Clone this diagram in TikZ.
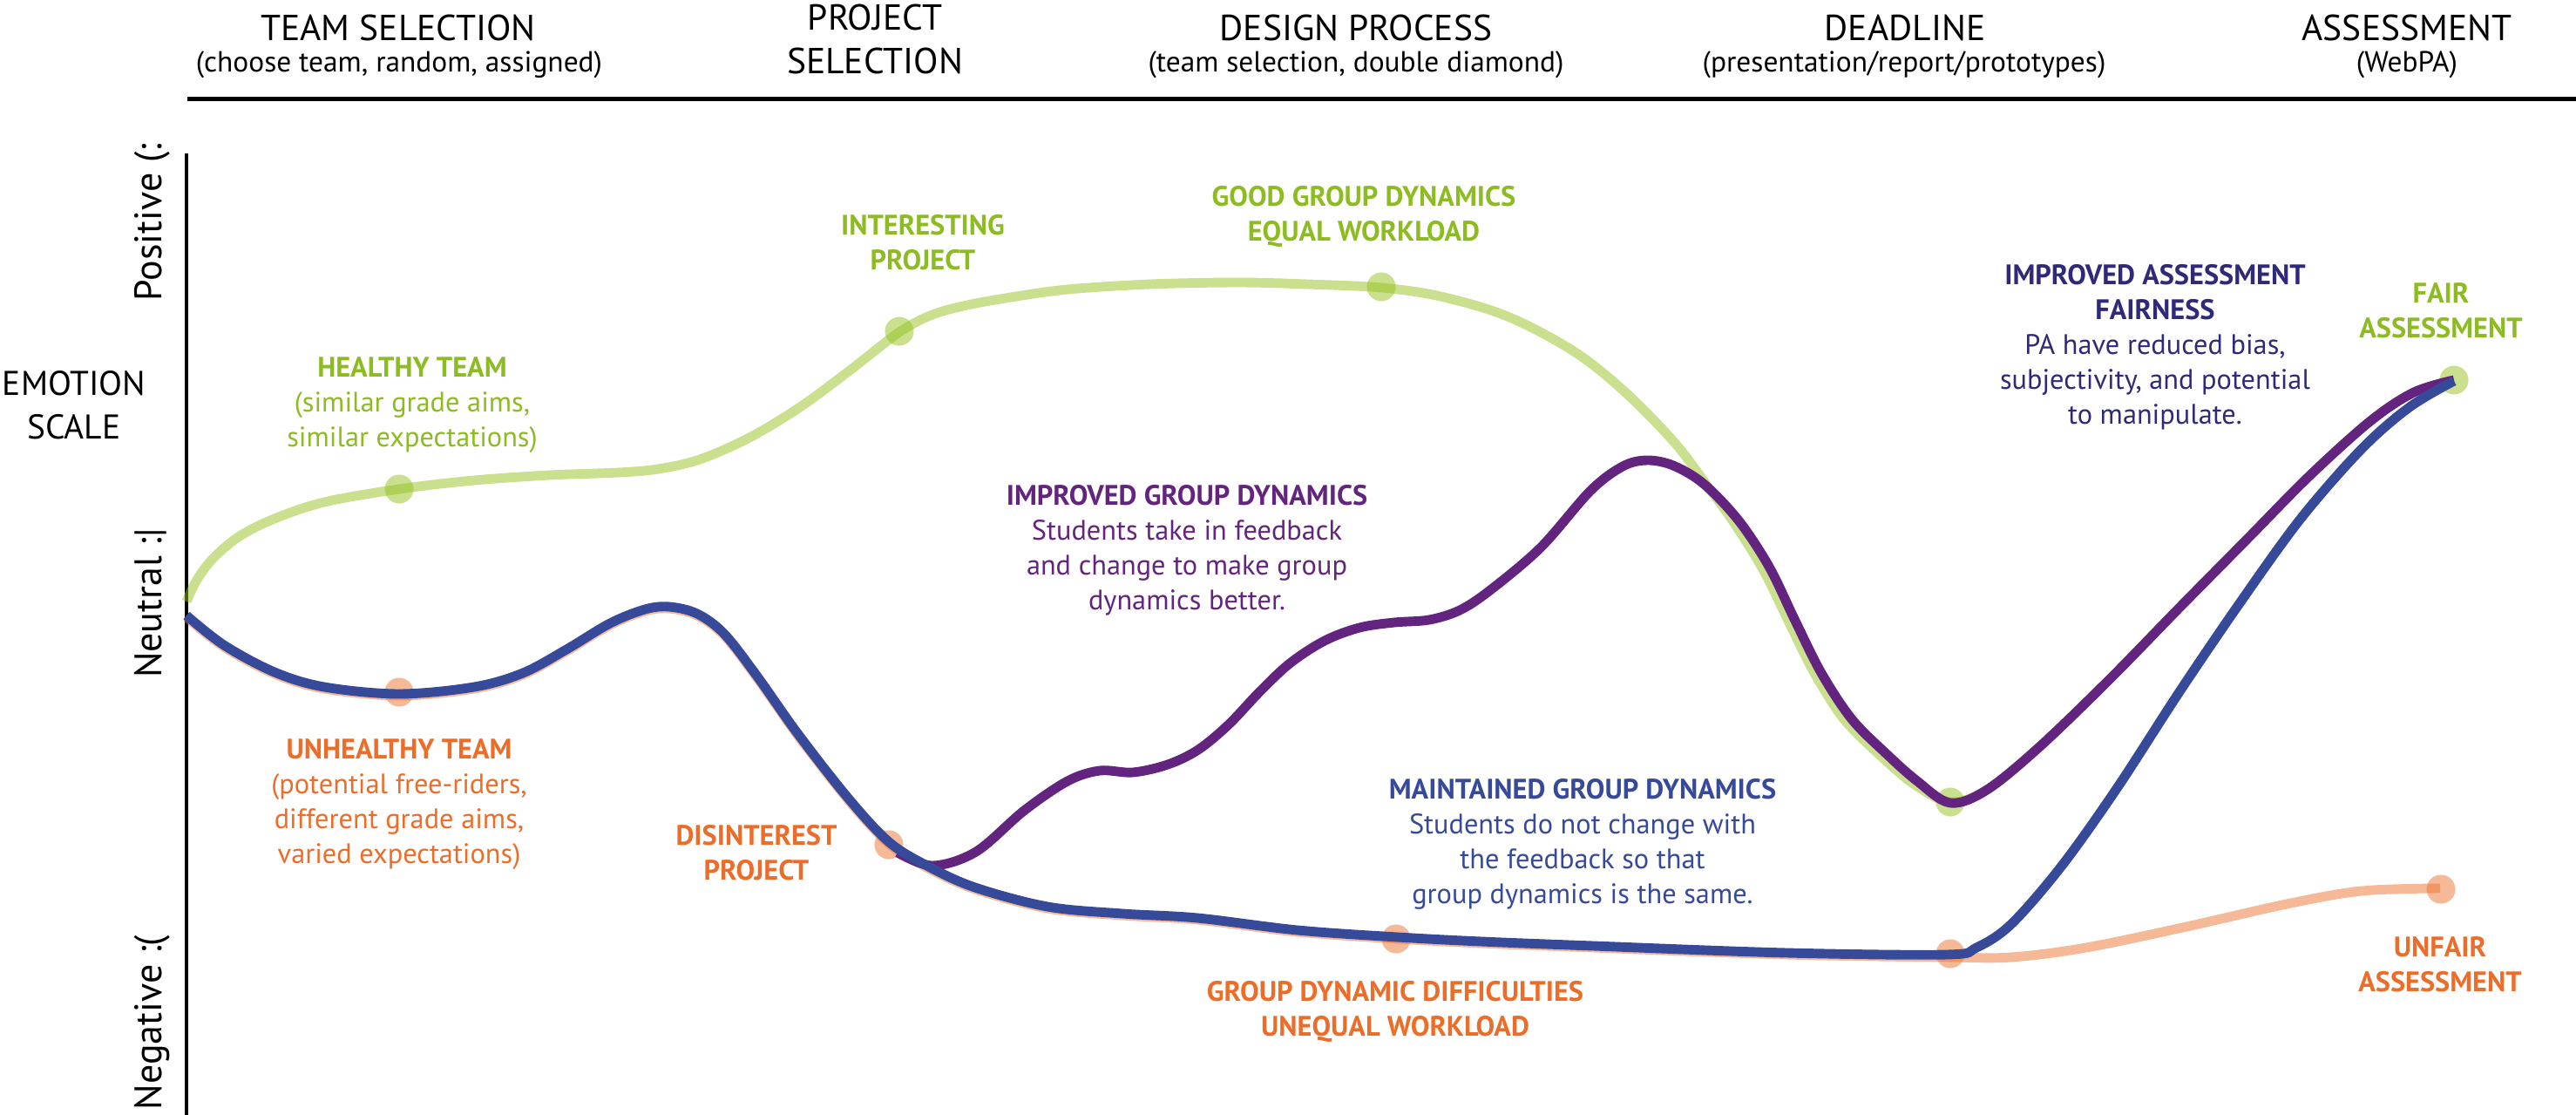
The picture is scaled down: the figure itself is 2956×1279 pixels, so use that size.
\documentclass[tikz,border=0pt]{standalone}
\usepackage{fontspec}
\setmainfont{PT Sans}
\definecolor{leafgreen}{HTML}{95C11F}
\definecolor{leaftext}{HTML}{8DBB22}
\definecolor{ember}{HTML}{EE7330}
\definecolor{embertext}{HTML}{EC6D2A}
\definecolor{plum}{HTML}{63247F}
\definecolor{navy}{HTML}{374A9A}
\definecolor{indigo}{HTML}{2E2A77}
\begin{document}
\begin{tikzpicture}[x=0.01cm, y=-0.01cm,
  stage/.style={font=\fontsize{11.8}{14.2}\selectfont, align=center, inner sep=0pt},
  stagesub/.style={font=\fontsize{9.5}{11.4}\selectfont, inner sep=0pt},
  scalelabel/.style={font=\fontsize{12.5}{15}\selectfont, rotate=90, anchor=base, inner sep=0pt},
  note/.style={font=\fontsize{9.2}{11.4}\selectfont, align=center, inner sep=0pt},
  notehead/.style={note, font=\bfseries\fontsize{9.2}{11.4}\selectfont},
  trend/.style={line width=3.1pt, line join=round},
  milestone/.style={circle, inner sep=0pt, minimum size=9.4pt, fill opacity=0.5},
]
\useasboundingbox (0,0) rectangle (2956,1279);

% ---- stage headings and timeline rule ----
\node[stage] (s1) at (457,31.5) {TEAM SELECTION};
\node[stagesub] (s1b) at (458,74.5) {(choose team, random, assigned)};
\node[stage] (s2) at (1004,45) {PROJECT\\SELECTION};
\node[stage] (s3) at (1556,31.5) {DESIGN PROCESS};
\node[stagesub] (s3b) at (1556,74.5) {(team selection, double diamond)};
\node[stage] (s4) at (2186,31.5) {DEADLINE};
\node[stagesub] (s4b) at (2185,74.5) {(presentation/report/prototypes)};
\node[stage] (s5) at (2762,31.5) {ASSESSMENT};
\node[stagesub] (s5b) at (2762,74.5) {(WebPA)};
\coordinate (ruleL) at (215,113.5);
\coordinate (ruleR) at (2956,113.5);
\draw[line width=1.5pt] (ruleL) -- (ruleR);

% ---- emotion axis ----
\coordinate (axisT) at (214,176);
\coordinate (axisB) at (214,1279);
\draw[line width=1.2pt] (axisT) -- (axisB);
\node[scalelabel] (pos) at (185,255) {Positive (:};
\node[scalelabel] (neu) at (185,692) {Neutral :|};
\node[scalelabel] (neg) at (185,1173) {Negative :(};
\node[font=\fontsize{11.2}{14.2}\selectfont, align=center, inner sep=0pt] (emo) at (85,464.5) {EMOTION\\SCALE};

% ---- positive path ----
\draw[trend, leafgreen, draw opacity=0.5] plot[smooth, tension=0.55] coordinates {
  (214,690) (226,665) (245,640) (275,615) (315,595) (372,576) (458,561)
  (544,551) (631,545) (710,542) (755,538) (803,527) (860,502) (918,467)
  (975,425) (1032,381) (1070,361) (1110,350) (1160,341) (1225,332)
  (1320,326) (1420,324) (1500,326) (1585,330) (1653,340) (1730,363)
  (1806,403) (1864,449) (1921,507) (1959,557) (1992,603) (2024,655)
  (2052,712) (2082,772) (2116,825) (2157,866) (2197,900) (2238,920)
  (2280,906) (2340,857) (2420,780) (2500,698) (2580,617) (2650,546)
  (2720,483) (2770,450) (2816,436)};

% ---- negative path ----
\draw[trend, ember, draw opacity=0.5] plot[smooth, tension=0.55] coordinates {
  (214,708) (257,742) (315,773) (372,790) (458,798) (544,790) (600,774)
  (650,747) (700,717) (740,701) (768,698) (800,706) (831,729) (869,778)
  (915,843) (972,916) (1018,966) (1058,992) (1116,1019) (1202,1042)
  (1288,1050) (1374,1055) (1489,1069) (1604,1077) (1700,1082) (1828,1087)
  (2050,1095) (2234,1098) (2308,1098) (2394,1087) (2509,1063) (2624,1037)
  (2710,1022) (2800,1019)};

% ---- milestones ----
\node[milestone, fill=leafgreen] (g1) at (458,561) {};
\node[milestone, fill=leafgreen] (g2) at (1032,380) {};
\node[milestone, fill=leafgreen] (g3) at (1585,329) {};
\node[milestone, fill=leafgreen] (g4) at (2238,920) {};
\node[milestone, fill=leafgreen] (g5) at (2816,436) {};
\node[milestone, fill=ember] (o1) at (458,794) {};
\node[milestone, fill=ember] (o2) at (1020,969) {};
\node[milestone, fill=ember] (o3) at (1602,1077) {};
\node[milestone, fill=ember] (o4) at (2238,1094) {};
\node[milestone, fill=ember] (o5) at (2801,1020) {};

% ---- improved dynamics path ----
\draw[trend, plum] plot[smooth, tension=0.55] coordinates {
  (1030,978) (1070,993) (1120,977) (1175,930) (1225,896) (1262,884)
  (1300,886) (1340,877) (1375,860) (1410,831) (1445,794) (1480,761)
  (1520,735) (1560,720) (1600,714) (1640,711) (1675,700) (1710,677)
  (1768,628) (1825,563) (1862,535) (1890,528) (1920,534) (1955,555)
  (1995,597) (2030,650) (2060,712) (2090,772) (2125,825) (2165,865)
  (2200,896) (2238,921) (2280,906) (2340,857) (2420,780) (2500,698)
  (2580,617) (2650,546) (2720,483) (2770,450) (2816,436)};

% ---- maintained dynamics path ----
\draw[trend, navy] plot[smooth, tension=0.55] coordinates {
  (214,706) (257,740) (315,771) (372,788) (458,796) (544,788) (600,772)
  (650,745) (700,715) (740,699) (768,696) (800,704) (831,727) (869,776)
  (915,841) (972,914) (1018,964) (1058,990) (1116,1017) (1202,1040)
  (1288,1048) (1374,1053) (1489,1067) (1604,1075) (1700,1080) (1828,1085)
  (2050,1093) (2234,1095) (2268,1087) (2308,1060) (2366,993) (2430,903)
  (2500,795) (2570,692) (2640,595) (2710,515) (2765,467) (2816,437)};

% ---- annotations ----
\node[note, text=leaftext] (healthy) at (473,464.5)
  {\textbf{HEALTHY TEAM}\\(similar grade aims,\\similar expectations)};
\node[note, text=embertext] (unhealthy) at (458,923)
  {\textbf{UNHEALTHY TEAM}\\(potential free-riders,\\different grade aims,\\varied expectations)};
\node[notehead, text=leaftext] (interesting) at (1059,278)
  {INTERESTING\\PROJECT};
\node[notehead, text=leaftext] (goodgroup) at (1565,248)
  {GOOD GROUP DYNAMICS\\EQUAL WORKLOAD};
\node[note, text=plum] (improved) at (1362,631)
  {\textbf{IMPROVED GROUP DYNAMICS}\\Students take in feedback\\and change to make group\\dynamics better.};
\node[notehead, text=embertext] (disinterest) at (868,978.5)
  {DISINTEREST\\PROJECT};
\node[notehead, text=embertext] (difficulties) at (1601,1160)
  {GROUP DYNAMIC DIFFICULTIES\\UNEQUAL WORKLOAD};
\node[note, text=navy] (maintained) at (1816,968.5)
  {\textbf{MAINTAINED GROUP DYNAMICS}\\Students do not change with\\the feedback so that\\group dynamics is the same.};
\node[note, text=indigo] (fairness) at (2473,398.5)
  {\textbf{IMPROVED ASSESSMENT}\\\textbf{FAIRNESS}\\PA have reduced bias,\\subjectivity, and potential\\to manipulate.};
\node[notehead, text=leaftext] (fair) at (2801,356)
  {FAIR\\ASSESSMENT};
\node[notehead, text=embertext] (unfair) at (2800,1106)
  {UNFAIR\\ASSESSMENT};
\end{tikzpicture}
\end{document}
